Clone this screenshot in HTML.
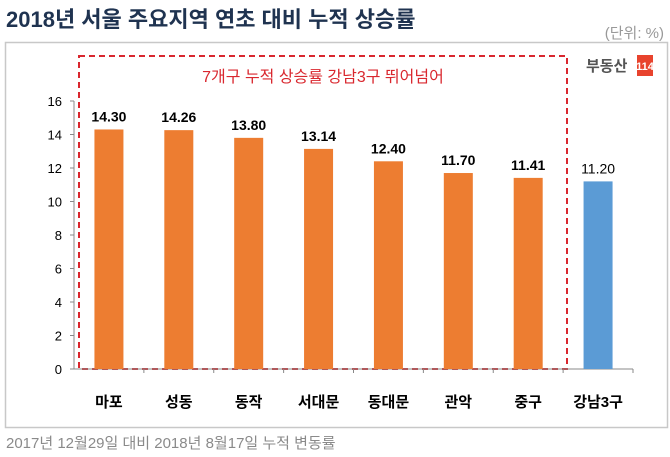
<!DOCTYPE html>
<html><head><meta charset="utf-8"><style>
body{margin:0;width:670px;height:457px;background:#fff;font-family:"Liberation Sans","Noto Sans CJK KR",sans-serif;overflow:hidden}
</style></head><body>
<svg width="670" height="457" style="position:absolute;left:0;top:0">
<text x="6" y="27" font-size="22" font-weight="bold" fill="#1f3350" font-family="Liberation Sans,Noto Sans CJK KR,sans-serif">2018년 서울 주요지역 연초 대비 누적 상승률</text>
<text x="664" y="38" font-size="15" fill="#999" text-anchor="end" font-family="Liberation Sans,Noto Sans CJK KR,sans-serif">(단위: %)</text>
<rect x="5.5" y="42.5" width="662" height="385" fill="none" stroke="#c8c8c8" stroke-width="1.5"/>
<rect x="79" y="56" width="488" height="313" fill="none" stroke="#d9272e" stroke-width="2" stroke-dasharray="6,4"/>
<text x="323" y="82" font-size="16" fill="#d9272e" text-anchor="middle" font-family="Liberation Sans,Noto Sans CJK KR,sans-serif">7개구 누적 상승률 강남3구 뛰어넘어</text>
<g>
<text x="586" y="71" font-size="15" font-weight="bold" fill="#555" font-family="Liberation Sans,Noto Sans CJK KR,sans-serif">부동산</text>
<rect x="637" y="55" width="16" height="21" fill="#e8432d"/>
<text x="645" y="70" font-size="11" font-weight="bold" fill="#fff" text-anchor="middle">114</text>
</g>
<g id="plot"></g>
<text x="6" y="448" font-size="15" fill="#8a8a8a" font-family="Liberation Sans,Noto Sans CJK KR,sans-serif">2017년 12월29일 대비 2018년 8월17일 누적 변동률</text>
</svg>
<script>
const categories=["마포","성동","동작","서대문","동대문","관악","중구","강남3구"];
const values=[14.30,14.26,13.80,13.14,12.40,11.70,11.41,11.20];
const labels=["14.30","14.26","13.80","13.14","12.40","11.70","11.41","11.20"];
const ticks=[0,2,4,6,8,10,12,14,16];
const NS="http://www.w3.org/2000/svg";
const g=document.getElementById('plot');
const x0=74,x1=633,y0=369,yTop=101,ymax=16;
const y=v=>y0-(v/ymax)*(y0-yTop);
const slot=(x1-x0)/categories.length;
const xc=i=>x0+slot*(i+0.5);
function mk(t,a){const e=document.createElementNS(NS,t);for(const k in a)e.setAttribute(k,a[k]);g.appendChild(e);return e;}
let ax=mk('line',{x1:x0,y1:yTop,x2:x0,y2:y0,stroke:'#888'});


ticks.forEach(t=>{
 const l=mk('line',{x1:x0-4,y1:y(t),x2:x0,y2:y(t),stroke:'#888'});
 
 
 const tx=mk('text',{x:x0-12,y:y(t)+5,'font-size':13,'text-anchor':'end',fill:'#000'});
 tx.textContent=t;
 
 
});
let bx=mk('line',{x1:x0,y1:y0,x2:x1,y2:y0,stroke:'#888'});


categories.forEach((c,i)=>{
 const tk=mk('line',{x1:x0+slot*(i+1),y1:y0,x2:x0+slot*(i+1),y2:y0+4,stroke:'#888'});
 
 
 const bw=29;
 const r=mk('rect',{x:xc(i)-bw/2,y:y(values[i]),width:bw,height:y0-y(values[i]),fill:i==7?'#5b9bd5':'#ed7d31'});
 
 
 const v=mk('text',{x:xc(i),y:y(values[i])-8,'font-size':14,'font-weight':i==7?'normal':'bold','text-anchor':'middle',fill:'#000'});
 v.textContent=labels[i];
 
 
 const cl=mk('text',{x:xc(i),y:407,'font-size':15,'font-weight':'bold','text-anchor':'middle',fill:'#000','font-family':'Liberation Sans,Noto Sans CJK KR,sans-serif'});
 cl.textContent=c;
 
 
});
</script>
</body></html>
